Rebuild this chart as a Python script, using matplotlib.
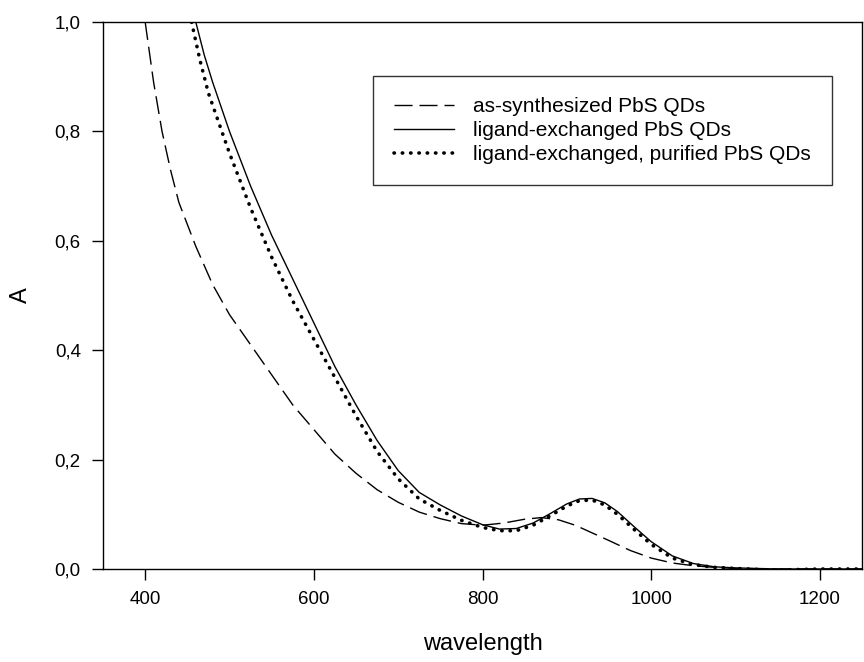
import matplotlib
matplotlib.use("Agg")
import matplotlib.pyplot as plt
from matplotlib.ticker import FuncFormatter

plt.rcParams['font.family'] = ['Liberation Sans', 'DejaVu Sans']

# as-synthesized PbS QDs (dashed)
wl_syn = [400, 410, 420, 430, 440, 460, 480, 500, 525, 550, 575, 600, 625, 650,
          675, 700, 725, 750, 775, 800, 825, 850, 870, 890, 910, 930, 950, 975,
          1000, 1025, 1050, 1075, 1100, 1150, 1200, 1250]
a_syn = [1.0, 0.89, 0.80, 0.73, 0.67, 0.59, 0.52, 0.465, 0.41, 0.355, 0.30, 0.255,
         0.21, 0.175, 0.145, 0.122, 0.104, 0.092, 0.083, 0.080, 0.084, 0.091, 0.094,
         0.090, 0.080, 0.066, 0.052, 0.034, 0.020, 0.011, 0.006, 0.003, 0.001,
         0.0, 0.0, 0.0]

# ligand-exchanged PbS QDs (solid)
wl_lig = [460, 470, 480, 500, 525, 550, 575, 600, 625, 650, 675, 700, 725, 750,
          775, 800, 820, 840, 860, 880, 900, 915, 930, 945, 960, 980, 1000, 1025,
          1050, 1075, 1100, 1150, 1200, 1250]
a_lig = [1.0, 0.94, 0.89, 0.80, 0.70, 0.61, 0.53, 0.45, 0.37, 0.30, 0.235, 0.18,
         0.14, 0.117, 0.097, 0.081, 0.073, 0.074, 0.084, 0.101, 0.119, 0.128,
         0.129, 0.121, 0.105, 0.077, 0.050, 0.024, 0.010, 0.004, 0.002, 0.0, 0.0,
         0.0]

# ligand-exchanged, purified PbS QDs (dotted)
wl_pur = [455, 465, 475, 500, 525, 550, 575, 600, 625, 650, 675, 700, 725, 750,
          775, 800, 820, 840, 860, 880, 900, 915, 930, 945, 960, 980, 1000, 1025,
          1050, 1075, 1100, 1145, 1200, 1250]
a_pur = [1.0, 0.93, 0.87, 0.76, 0.66, 0.57, 0.49, 0.42, 0.35, 0.28, 0.215, 0.165,
         0.128, 0.107, 0.089, 0.076, 0.070, 0.070, 0.080, 0.097, 0.115, 0.125,
         0.126, 0.117, 0.100, 0.072, 0.045, 0.020, 0.008, 0.003, 0.001, -0.002,
         0.0, 0.0]

labels = ['as-synthesized PbS QDs', 'ligand-exchanged PbS QDs',
          'ligand-exchanged, purified PbS QDs']

fig = plt.figure(figsize=(8.64, 6.62), dpi=100)
ax = fig.add_axes([103 / 864, 93 / 662, 759 / 864, 547 / 662])

ax.plot(wl_syn, a_syn, color='black', lw=1.0, linestyle=(0, (13, 5)), label=labels[0])
ax.plot(wl_lig, a_lig, color='black', lw=1.0, linestyle='-', label=labels[1])
ax.plot(wl_pur, a_pur, color='black', lw=2.6, linestyle=(0, (0.1, 2.2)),
        dash_capstyle='round', label=labels[2])

ax.set_xlim(350, 1250)
ax.set_ylim(0, 1.0)
ax.set_xticks([400, 600, 800, 1000, 1200])
ax.set_yticks([0, 0.2, 0.4, 0.6, 0.8, 1.0])
ax.yaxis.set_major_formatter(FuncFormatter(lambda v, p: f"{v:.1f}".replace('.', ',')))
ax.tick_params(direction='out', length=8, width=1, labelsize=13.5, pad=8,
               top=False, right=False)
for s in ax.spines.values():
    s.set_linewidth(1.0)

ax.set_xlabel('wavelength', fontsize=17, labelpad=18)
ax.set_ylabel('A', fontsize=17, labelpad=16)

leg = ax.legend(loc='upper right', bbox_to_anchor=(0.960, 0.901), borderaxespad=0,
                fontsize=15, frameon=True, fancybox=False, handlelength=2.9,
                handletextpad=0.9, labelspacing=0.25, borderpad=1.0)
leg.get_frame().set_edgecolor('black')
leg.get_frame().set_linewidth(1.0)

fig.savefig('out.png', dpi=100)
